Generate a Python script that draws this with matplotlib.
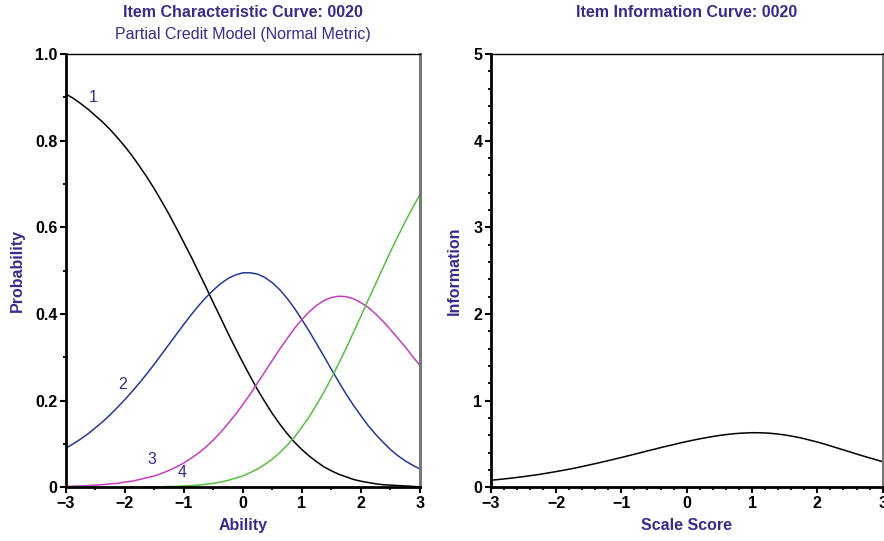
import matplotlib
matplotlib.use('Agg')
import matplotlib.pyplot as plt
from matplotlib.ticker import MultipleLocator, FuncFormatter

plt.rcParams['font.family'] = ['Liberation Sans', 'DejaVu Sans']

# ability grid (step 0.125) and curve values
theta = [-3.0, -2.875, -2.75, -2.625, -2.5, -2.375, -2.25, -2.125, -2.0,
         -1.875, -1.75, -1.625, -1.5, -1.375, -1.25, -1.125, -1.0,
         -0.875, -0.75, -0.625, -0.5, -0.375, -0.25, -0.125, 0.0,
         0.125, 0.25, 0.375, 0.5, 0.625, 0.75, 0.875, 1.0,
         1.125, 1.25, 1.375, 1.5, 1.625, 1.75, 1.875, 2.0,
         2.125, 2.25, 2.375, 2.5, 2.625, 2.75, 2.875, 3.0]
p1 = [0.908, 0.898, 0.886, 0.873, 0.858, 0.843, 0.826, 0.807, 0.787,
      0.765, 0.741, 0.716, 0.689, 0.660, 0.630, 0.598, 0.565,
      0.532, 0.497, 0.462, 0.426, 0.391, 0.355, 0.321, 0.288,
      0.256, 0.225, 0.197, 0.170, 0.146, 0.124, 0.104, 0.087,
      0.072, 0.059, 0.047, 0.038, 0.030, 0.024, 0.018, 0.014,
      0.011, 0.008, 0.006, 0.005, 0.004, 0.003, 0.002, 0.001]
p2 = [0.090, 0.100, 0.111, 0.123, 0.137, 0.151, 0.167, 0.184, 0.202,
      0.221, 0.241, 0.262, 0.284, 0.307, 0.330, 0.353, 0.376,
      0.398, 0.419, 0.438, 0.455, 0.470, 0.482, 0.490, 0.495,
      0.495, 0.492, 0.484, 0.472, 0.456, 0.436, 0.413, 0.387,
      0.360, 0.331, 0.302, 0.272, 0.243, 0.215, 0.189, 0.165,
      0.142, 0.122, 0.104, 0.087, 0.073, 0.061, 0.051, 0.042]
p3 = [0.002, 0.0025, 0.003, 0.004, 0.005, 0.006, 0.008, 0.009, 0.012,
      0.014, 0.018, 0.022, 0.026, 0.032, 0.039, 0.047, 0.056,
      0.067, 0.079, 0.093, 0.109, 0.127, 0.147, 0.168, 0.191,
      0.215, 0.241, 0.267, 0.293, 0.319, 0.343, 0.367, 0.387,
      0.405, 0.420, 0.431, 0.438, 0.441, 0.440, 0.435, 0.426,
      0.415, 0.400, 0.383, 0.364, 0.344, 0.324, 0.302, 0.281]
p4 = [0.000, 0.000, 0.000, 0.000, 0.000, 0.000, 0.000, 0.000, 0.000,
      0.000, 0.000, 0.001, 0.001, 0.001, 0.002, 0.002, 0.003,
      0.004, 0.005, 0.007, 0.009, 0.012, 0.016, 0.021, 0.026,
      0.034, 0.042, 0.053, 0.065, 0.080, 0.097, 0.116, 0.139,
      0.163, 0.191, 0.220, 0.252, 0.286, 0.321, 0.358, 0.395,
      0.433, 0.470, 0.507, 0.544, 0.579, 0.613, 0.645, 0.676]
info = [0.081, 0.090, 0.100, 0.111, 0.123, 0.136, 0.149, 0.165, 0.181,
        0.198, 0.216, 0.235, 0.256, 0.277, 0.299, 0.321, 0.344,
        0.367, 0.391, 0.415, 0.438, 0.462, 0.484, 0.507, 0.528,
        0.548, 0.566, 0.583, 0.598, 0.610, 0.620, 0.626, 0.630,
        0.629, 0.625, 0.616, 0.604, 0.588, 0.569, 0.546, 0.522,
        0.495, 0.466, 0.437, 0.408, 0.378, 0.350, 0.323, 0.295]

curve_labels = ['1', '2', '3', '4']
label_pos = [(-2.54, 0.90), (-2.03, 0.238), (-1.54, 0.063), (-1.03, 0.035)]
colors = ['#000000', '#23399a', '#c23fbf', '#55c13f']

purple = '#3a2a8c'
fs = 11.5


def minus(v, fmt):
    return (fmt % v).replace('-', '\u2212')


def style_axes(ax):
    ax.spines['left'].set_linewidth(2.0)
    ax.spines['bottom'].set_linewidth(2.0)
    ax.spines['top'].set_linewidth(1.0)
    ax.spines['right'].set_linewidth(2.2)
    ax.spines['right'].set_color('#777777')
    ax.tick_params(which='major', direction='out', length=4, width=1.5,
                   labelsize=fs, pad=2, top=False, right=False)
    ax.tick_params(which='minor', direction='out', length=2.5, width=1.3,
                   top=False, right=False)
    for lab in ax.get_xticklabels() + ax.get_yticklabels():
        lab.set_fontweight('bold')


fig = plt.figure(figsize=(8.84, 5.41), dpi=100)
ax1 = fig.add_axes([0.0743, 0.0993, 0.4008, 0.8009])
ax2 = fig.add_axes([0.5551, 0.0993, 0.4434, 0.8009])

# left: category response curves
for ys, c in zip([p1, p2, p3, p4], colors):
    ax1.plot(theta, ys, color=c, linewidth=1.1)
for lab, (lx, ly) in zip(curve_labels, label_pos):
    ax1.text(lx, ly, lab, color=purple, fontsize=fs, ha='center', va='center')

ax1.set_xlim(-3, 3)
ax1.set_ylim(0, 1)
ax1.xaxis.set_major_locator(MultipleLocator(1))
ax1.xaxis.set_minor_locator(MultipleLocator(0.5))
ax1.yaxis.set_major_locator(MultipleLocator(0.2))
ax1.yaxis.set_minor_locator(MultipleLocator(0.1))
ax1.xaxis.set_major_formatter(FuncFormatter(lambda v, p: minus(v, '%d')))
ax1.yaxis.set_major_formatter(FuncFormatter(lambda v, p: '0' if v == 0 else '%.1f' % v))
style_axes(ax1)
ax1.set_xlabel('Ability', color=purple, fontweight='bold', fontsize=fs, labelpad=5)
ax1.set_ylabel('Probability', color=purple, fontweight='bold', fontsize=fs, labelpad=7)
ax1.text(0.5, 1.095, 'Item Characteristic Curve: 0020', transform=ax1.transAxes,
         ha='center', va='center', color=purple, fontweight='bold', fontsize=fs)
ax1.text(0.5, 1.044, 'Partial Credit Model (Normal Metric)', transform=ax1.transAxes,
         ha='center', va='center', color=purple, fontsize=fs)

# right: item information
ax2.plot(theta, info, color='black', linewidth=1.1)
ax2.set_xlim(-3, 3)
ax2.set_ylim(0, 5)
ax2.xaxis.set_major_locator(MultipleLocator(1))
ax2.xaxis.set_minor_locator(MultipleLocator(0.2))
ax2.yaxis.set_major_locator(MultipleLocator(1))
ax2.yaxis.set_minor_locator(MultipleLocator(0.2))
ax2.xaxis.set_major_formatter(FuncFormatter(lambda v, p: minus(v, '%d')))
ax2.yaxis.set_major_formatter(FuncFormatter(lambda v, p: '%d' % v))
style_axes(ax2)
ax2.set_xlabel('Scale Score', color=purple, fontweight='bold', fontsize=fs, labelpad=5)
ax2.set_ylabel('Information', color=purple, fontweight='bold', fontsize=fs, labelpad=8)
ax2.text(0.5, 1.095, 'Item Information Curve: 0020', transform=ax2.transAxes,
         ha='center', va='center', color=purple, fontweight='bold', fontsize=fs)

fig.savefig('out.png', dpi=100)
